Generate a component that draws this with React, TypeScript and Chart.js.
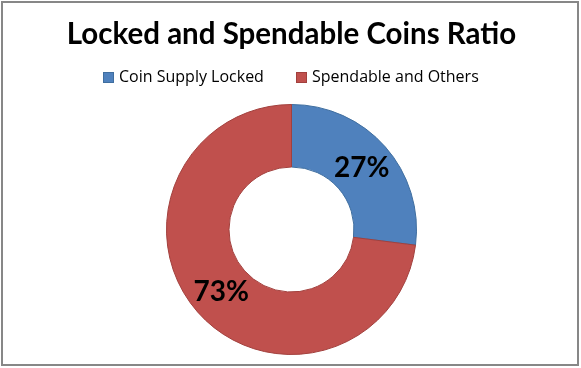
import React, { useEffect, useRef } from "react";
import { Chart, registerables } from "chart.js";

Chart.register(...registerables);

const TITLE = "Locked and Spendable Coins Ratio";
const categories = ["Coin Supply Locked", "Spendable and Others"];
const values = [27, 73];
const valueLabels = ["27%", "73%"];
const fillColors = ["#4F81BD", "#C0504D"];
const edgeColors = ["#3F6E9F", "#A2403D"];

const FONT = "Lato, 'Open Sans', sans-serif";
const LEGEND_FONT = "'Open Sans', Lato, sans-serif";

const framePlugin = {
  id: "frame",
  afterDraw(chart: any) {
    const ctx = chart.ctx;
    ctx.save();
    ctx.strokeStyle = "#878787";
    ctx.lineWidth = 2;
    ctx.strokeRect(2, 2, 576, 363);
    ctx.restore();
  },
};

const legendPlugin = {
  id: "manualLegend",
  afterDraw(chart: any) {
    const ctx = chart.ctx;
    ctx.save();
    ctx.font = `16px ${LEGEND_FONT}`;
    ctx.textBaseline = "middle";
    ctx.textAlign = "left";
    const xs = [103, 296];
    const y = 77.5;
    categories.forEach((c, i) => {
      ctx.fillStyle = fillColors[i];
      ctx.fillRect(xs[i], y - 5.5, 11, 11);
      ctx.strokeStyle = edgeColors[i];
      ctx.lineWidth = 1;
      ctx.strokeRect(xs[i] + 0.5, y - 5, 10, 10);
      ctx.fillStyle = "#000";
      ctx.fillText(c, xs[i] + 16, y);
    });
    ctx.restore();
  },
};

const labelPlugin = {
  id: "sliceLabels",
  afterDatasetsDraw(chart: any) {
    const ctx = chart.ctx;
    const meta = chart.getDatasetMeta(0);
    ctx.save();
    ctx.font = `bold 28px ${FONT}`;
    ctx.fillStyle = "#000";
    ctx.textAlign = "center";
    ctx.textBaseline = "middle";
    meta.data.forEach((arc: any, i: number) => {
      const p = arc.getCenterPoint();
      ctx.fillText(valueLabels[i], p.x, p.y);
    });
    ctx.restore();
  },
};

export default function App() {
  const ref = useRef<HTMLCanvasElement>(null);
  useEffect(() => {
    document.body.style.margin = "0";
    const chart = new Chart(ref.current as HTMLCanvasElement, {
      type: "doughnut",
      data: {
        labels: categories,
        datasets: [
          {
            data: values,
            backgroundColor: fillColors,
            borderColor: edgeColors,
            borderWidth: 1,
          },
        ],
      },
      options: {
        animation: false,
        responsive: false,
        cutout: "50%",
        layout: { padding: { left: 2, bottom: 13 } },
        plugins: {
          legend: { display: false },
          tooltip: { enabled: false },
          title: {
            display: true,
            text: TITLE,
            color: "#000",
            font: { family: FONT, size: 29.5, weight: "bold" },
            padding: { top: 17, bottom: 51.6 },
          },
        },
      },
      plugins: [labelPlugin, legendPlugin, framePlugin],
    });
    return () => chart.destroy();
  }, []);
  return (
    <div style={{ width: 581, height: 368, background: "#fff" }}>
      <canvas ref={ref} width={581} height={368} style={{ display: "block" }} />
    </div>
  );
}
